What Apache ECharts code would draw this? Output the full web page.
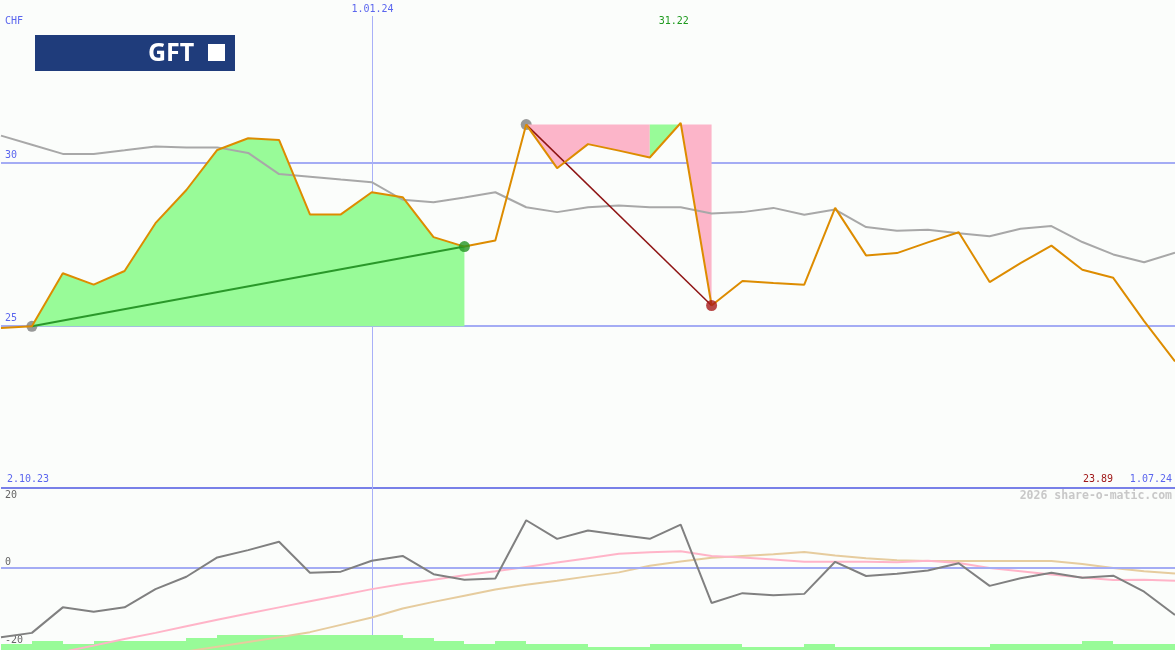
<!DOCTYPE html>
<html><head><meta charset="utf-8">
<script src="https://cdn.jsdelivr.net/npm/echarts@6/dist/echarts.min.js"></script>
<style>html,body{margin:0;padding:0;background:#fbfdfb;} #c{width:1175px;height:650px;}</style>
</head><body><div id="c"></div>
<script>
// ---- data (weekly, index 0 = first week shown) ----
const price = [24.92,24.97,26.60,26.25,26.67,28.14,29.16,30.39,30.75,30.70,28.41,28.41,29.09,28.94,27.71,27.42,27.61,31.17,29.83,30.57,30.37,30.16,31.22,25.61,26.36,26.30,26.25,28.61,27.15,27.22,27.55,27.86,26.33,26.91,27.45,26.71,26.46,25.13,23.89];
const benchmark = [30.83,30.55,30.27,30.27,30.38,30.50,30.47,30.47,30.30,29.65,29.57,29.48,29.40,28.86,28.78,28.93,29.09,28.63,28.48,28.63,28.68,28.63,28.63,28.44,28.48,28.61,28.40,28.56,28.02,27.91,27.94,27.83,27.74,27.97,28.05,27.56,27.18,26.94,27.23];
const oscillator = [-19.0,-17.8,-10.8,-12.0,-10.8,-5.8,-2.4,2.9,4.9,7.2,-1.3,-1.0,2.0,3.3,-1.7,-3.2,-2.9,13.1,8.0,10.3,9.1,8.0,11.9,-9.6,-6.9,-7.5,-7.1,1.7,-2.2,-1.6,-0.7,1.3,-4.9,-2.8,-1.3,-2.7,-2.1,-6.5,-12.9];
const oscAvgFast = [null,null,-23.0,-21.3,-19.5,-17.8,-16.0,-14.2,-12.5,-10.8,-9.1,-7.5,-5.8,-4.4,-3.2,-2.0,-0.9,0.3,1.5,2.7,3.9,4.3,4.6,3.3,2.9,2.3,1.7,1.7,1.7,1.6,2.0,1.4,0.0,-0.9,-1.8,-2.6,-3.3,-3.2,-3.5];
const oscAvgSlow = [null,null,null,null,null,-24.1,-22.9,-21.6,-20.3,-19.0,-17.6,-15.6,-13.6,-11.1,-9.3,-7.6,-5.9,-4.6,-3.5,-2.3,-1.2,0.6,1.8,2.8,3.3,3.8,4.4,3.4,2.7,2.1,1.9,1.9,1.9,1.9,1.9,1.1,0.0,-0.9,-1.5];
const volume = [2,3,2,3,3,3,4,5,5,5,5,5,5,4,3,2,3,2,2,1,1,2,2,2,1,1,2,1,1,1,1,1,2,2,2,3,2,2];
const trades = [[1,15],[17,23]];           // [entry week, exit week]
const priceTicks = [25,30];
const oscTicks = [-20,0,20];
const dateTickWeeks = [12];
const dateTickLabels = ['1.01.24'];
const rangeLabels = ['2.10.23','1.07.24'];
const currency = 'CHF';
const logoText = 'GFT';
const watermark = '2026 share-o-matic.com';

// ---- styles ----
const FONT = '"DejaVu Sans Mono", monospace';
const BLUE_TXT = '#5b66ee';
const GAIN = '#98fb98', LOSS = '#fcb5c9';
const N = price.length - 1;

const chart = echarts.init(document.getElementById('c'));
const pts = arr => arr.map((v,i)=>[i,v]);

function regionItem(params, api){
  const from = api.value(0), to = api.value(1);
  const level = price[from];
  const colorOf = k => price[k+1] >= level ? GAIN : LOSS;
  const children = [];
  let runStart = from;
  for (let k = from; k < to; k++) {
    if (k === to-1 || colorOf(k+1) !== colorOf(k)) {
      const p = [api.coord([runStart, level])];
      for (let j = runStart; j <= k+1; j++) p.push(api.coord([j, price[j]]));
      p.push(api.coord([k+1, level]));
      children.push({type:'polygon', shape:{points:p}, style:{fill:colorOf(k)}});
      runStart = k+1;
    }
  }
  return {type:'group', children};
}
function volItem(params, api){
  const k = api.value(0), v = api.value(1);
  const a = api.coord([k, v]), b = api.coord([k+1, 0]);
  const x = Math.round(a[0]);
  return {type:'rect', shape:{x:x, y:a[1], width:Math.round(b[0])-x, height:b[1]-a[1]}, style:{fill:GAIN}};
}

const option = {
  backgroundColor:'#fbfdfb',
  animation:false,
  grid:[{left:1,right:0,top:-1,height:489},{left:1,right:0,top:486,height:164}],
  xAxis:[
    {type:'value',gridIndex:0,min:0,max:N,show:false},
    {type:'value',gridIndex:1,min:0,max:N,show:false}
  ],
  yAxis:[
    {type:'value',gridIndex:0,min:20,max:35,interval:5,axisLine:{show:false},axisTick:{show:false},
     splitLine:{show:true,lineStyle:{color:['#7880e8','#a4acf4','#a4acf4','rgba(0,0,0,0)'],width:2}},
     axisLabel:{inside:true,margin:4,verticalAlign:'bottom',padding:[0,0,2,0],color:BLUE_TXT,fontFamily:FONT,fontSize:10,
       formatter:v=>priceTicks.includes(v)?String(v):''}},
    {type:'value',gridIndex:1,min:-22.5,max:22.5,axisLine:{show:false},axisTick:{show:false},splitLine:{show:false},
     axisLabel:{inside:true,margin:4,customValues:oscTicks,color:'#666',fontFamily:FONT,fontSize:10,verticalAlign:'middle',
       formatter:v=>v===0?'{up|0}':String(v),
       rich:{up:{padding:[0,0,12,0],color:'#666',fontFamily:FONT,fontSize:10}}}},
    {type:'value',gridIndex:1,min:0,max:164/3,show:false}
  ],
  series:[
    // start markers (under fills)
    {type:'scatter',xAxisIndex:0,yAxisIndex:0,z:2,symbolSize:11,itemStyle:{color:'#808080'},
     data:trades.map(t=>[t[0],price[t[0]]])},
    // gain / loss areas
    {type:'custom',xAxisIndex:0,yAxisIndex:0,z:3,clip:true,renderItem:regionItem,data:trades.map(t=>[t[0],t[1]])},
    // benchmark
    {type:'line',xAxisIndex:0,yAxisIndex:0,z:4,data:pts(benchmark),symbol:'none',lineStyle:{color:'#a8a8a8',width:2}},
    // trade lines
    {type:'line',xAxisIndex:0,yAxisIndex:0,z:5,symbol:'none',lineStyle:{color:'#2a982a',width:2},
     data:trades[0].map(k=>[k,price[k]])},
    {type:'line',xAxisIndex:0,yAxisIndex:0,z:5,symbol:'none',lineStyle:{color:'#8e1414',width:1.5},
     data:trades[1].map(k=>[k,price[k]])},
    // price
    {type:'line',xAxisIndex:0,yAxisIndex:0,z:6,data:pts(price),symbol:'none',lineStyle:{color:'#dd8c00',width:2}},
    // exit markers
    {type:'scatter',xAxisIndex:0,yAxisIndex:0,z:7,symbolSize:11,
     data:[{value:[trades[0][1],price[trades[0][1]]],itemStyle:{color:'#239323'}},
           {value:[trades[1][1],price[trades[1][1]]],itemStyle:{color:'#a81a1a'}}]},
    // volume bars
    {type:'custom',xAxisIndex:1,yAxisIndex:2,z:3,clip:true,renderItem:volItem,data:pts(volume)},
    // oscillator zero line holder + lines
    {type:'line',xAxisIndex:1,yAxisIndex:1,z:3,data:pts(oscAvgSlow),symbol:'none',lineStyle:{color:'#e6cc9e',width:2},
     markLine:{silent:true,symbol:'none',label:{show:false},lineStyle:{color:'#a4acf4',width:2,type:'solid'},data:[{yAxis:0}]}},
    {type:'line',xAxisIndex:1,yAxisIndex:1,z:4,data:pts(oscAvgFast),symbol:'none',lineStyle:{color:'#ffb4c8',width:2}},
    {type:'line',xAxisIndex:1,yAxisIndex:1,z:5,data:pts(oscillator),symbol:'none',lineStyle:{color:'#808080',width:2}}
  ]
};
chart.setOption(option);

// ---- annotations placed through the chart's own scales ----
const hiIdx = price.indexOf(Math.max(...price));
const loVal = Math.min(...price);
const g = [];
dateTickWeeks.forEach((k,i)=>{
  const x = Math.round(chart.convertToPixel({xAxisIndex:0},k)) + 0.5;
  g.push({type:'line',z:0,shape:{x1:x,y1:16,x2:x,y2:650},style:{stroke:'#a8b0f8',lineWidth:1}});
  g.push({type:'text',z:10,x:x,y:4,style:{text:dateTickLabels[i],fill:BLUE_TXT,font:'10px '+FONT,textAlign:'center',textVerticalAlign:'top'}});
});
const hx = chart.convertToPixel({xAxisIndex:0},hiIdx);
g.push({type:'text',z:10,x:hx-7,y:21,style:{text:price[hiIdx].toFixed(2),fill:'#1e9a1e',font:'10px '+FONT,textAlign:'center',textVerticalAlign:'middle'}});
g.push({type:'text',z:10,x:5,y:21,style:{text:currency,fill:BLUE_TXT,font:'10px '+FONT,textAlign:'left',textVerticalAlign:'middle'}});
g.push({type:'text',z:10,x:7,y:484,style:{text:rangeLabels[0],fill:BLUE_TXT,font:'10px '+FONT,textAlign:'left',textVerticalAlign:'bottom'}});
g.push({type:'text',z:10,x:1172,y:484,style:{text:rangeLabels[1],fill:BLUE_TXT,font:'10px '+FONT,textAlign:'right',textVerticalAlign:'bottom'}});
g.push({type:'text',z:10,x:1113,y:484,style:{text:loVal.toFixed(2),fill:'#a01818',font:'10px '+FONT,textAlign:'right',textVerticalAlign:'bottom'}});
g.push({type:'text',z:10,x:1172,y:496,style:{text:watermark,fill:'#c8c8c8',font:'bold 11.5px '+FONT,textAlign:'right',textVerticalAlign:'middle'}});
// logo
g.push({type:'rect',z:10,shape:{x:35,y:35,width:200,height:36},style:{fill:'#1f3c7b'}});
g.push({type:'text',z:11,x:148,y:54,style:{text:logoText,fill:'#ffffff',font:'bold 25px "Open Sans", sans-serif',textAlign:'left',textVerticalAlign:'middle'}});
g.push({type:'rect',z:11,shape:{x:208,y:44,width:17,height:17},style:{fill:'#ffffff'}});
chart.setOption({graphic:g});
</script>
</body></html>
